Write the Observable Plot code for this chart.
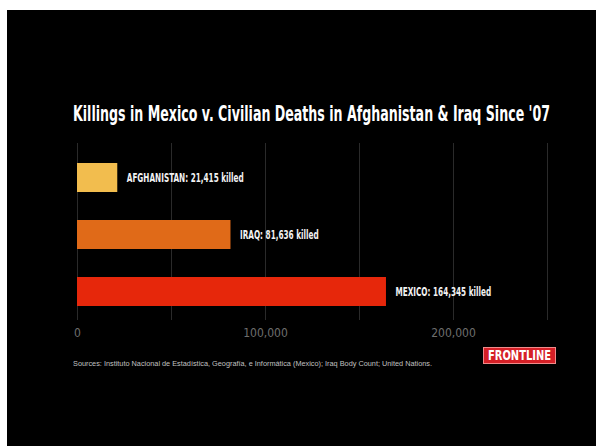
<!DOCTYPE html>
<html><head><meta charset="utf-8">
<script src="https://cdn.jsdelivr.net/npm/d3@7"></script>
<script src="https://cdn.jsdelivr.net/npm/@observablehq/plot@0.6"></script>
<style>
html,body{margin:0;padding:0;background:#fff;width:596px;height:446px;overflow:hidden;}
#frame{position:absolute;left:7px;top:10px;width:589px;height:436px;background:#000;overflow:hidden;}
.narrow{font-family:"Liberation Sans Narrow","DejaVu Sans Condensed","Arial Narrow",sans-serif;}
#title{position:absolute;left:66px;top:92px;color:#fff;font-size:21px;font-weight:bold;white-space:nowrap;transform-origin:0 0;line-height:24px;}
#chart{position:absolute;left:0;top:120px;}
#source{position:absolute;left:66px;top:350px;color:#c0c0c0;font-family:"Liberation Sans",Arial,sans-serif;font-size:6.5px;white-space:nowrap;transform-origin:0 0;line-height:8px;}
#logo{position:absolute;left:476px;top:337px;width:73px;height:17px;background:#d51f26;border:1px solid #f08a8a;box-sizing:border-box;}
#logoText{position:absolute;left:4px;top:0px;color:#fff;font-weight:bold;font-size:14px;line-height:15px;white-space:nowrap;transform-origin:0 0;}
</style>
</head><body>
<div id="frame">
  <div id="title" class="narrow"></div>
  <div id="chart"></div>
  <div id="source"></div>
  <div id="logo"><div id="logoText" class="narrow">FRONTLINE</div></div>
</div>
<script>
const titleText = "Killings in Mexico v. Civilian Deaths in Afghanistan & Iraq Since '07";
const sourceText = "Sources: Instituto Nacional de Estadística, Geografía, e Informática (Mexico); Iraq Body Count; United Nations.";
const countries = ["Afghanistan", "Iraq", "Mexico"];
const killed = [21415, 81636, 164345];
const barColors = ["#F2BD4E", "#E06A18", "#E6270B"];
const xTicks = [0, 100000, 200000];
const gridValues = [0, 50000, 100000, 150000, 200000, 250000];

const fmt = d3.format(",");
const data = countries.map((c, i) => ({
  country: c,
  killed: killed[i],
  color: barColors[i],
  label: `${c.toUpperCase()}: ${fmt(killed[i])} killed`
}));

const narrowFont = "'Liberation Sans Narrow','DejaVu Sans Condensed','Arial Narrow',sans-serif";

const chart = Plot.plot({
  width: 589,
  height: 210,
  marginLeft: 70,
  marginRight: 49,
  marginTop: 13,
  marginBottom: 20,
  style: {background: "#000", color: "#6e6e6e", fontFamily: narrowFont, fontSize: "12px"},
  x: {domain: [0, 250000], ticks: xTicks, tickFormat: d => fmt(d), tickSize: 0, tickPadding: 8, label: null},
  y: {domain: countries, axis: null, paddingInner: 0.5, paddingOuter: 0.276, align: 0.59},
  color: {type: "identity"},
  marks: [
    Plot.ruleX(gridValues, {stroke: "#2a2a2a", strokeWidth: 1}),
    Plot.barX(data, {x: "killed", y: "country", fill: "color"}),
    Plot.text(data, {x: "killed", y: "country", text: "label", textAnchor: "start", dx: 9,
      fill: "#f2f2f2", fontWeight: "bold", fontSize: 12.5})
  ]
});
document.getElementById("chart").appendChild(chart);

// condense bar labels to match the reference's narrow typeface
const labels = chart.querySelectorAll('g[aria-label="text"] text');
if (labels.length) {
  const ref = labels[0].getComputedTextLength();
  const f = 117 / ref;
  labels.forEach(t => {
    t.setAttribute("textLength", t.getComputedTextLength() * f);
    t.setAttribute("lengthAdjust", "spacingAndGlyphs");
  });
}

const title = document.getElementById("title");
title.textContent = titleText;
title.style.transform = `scaleX(${477 / title.scrollWidth})`;

const source = document.getElementById("source");
source.textContent = sourceText;
source.style.transform = `scaleX(${359 / source.scrollWidth})`;

const logoText = document.getElementById("logoText");
logoText.style.transform = `scaleX(${63 / logoText.scrollWidth})`;
</script>
</body></html>
